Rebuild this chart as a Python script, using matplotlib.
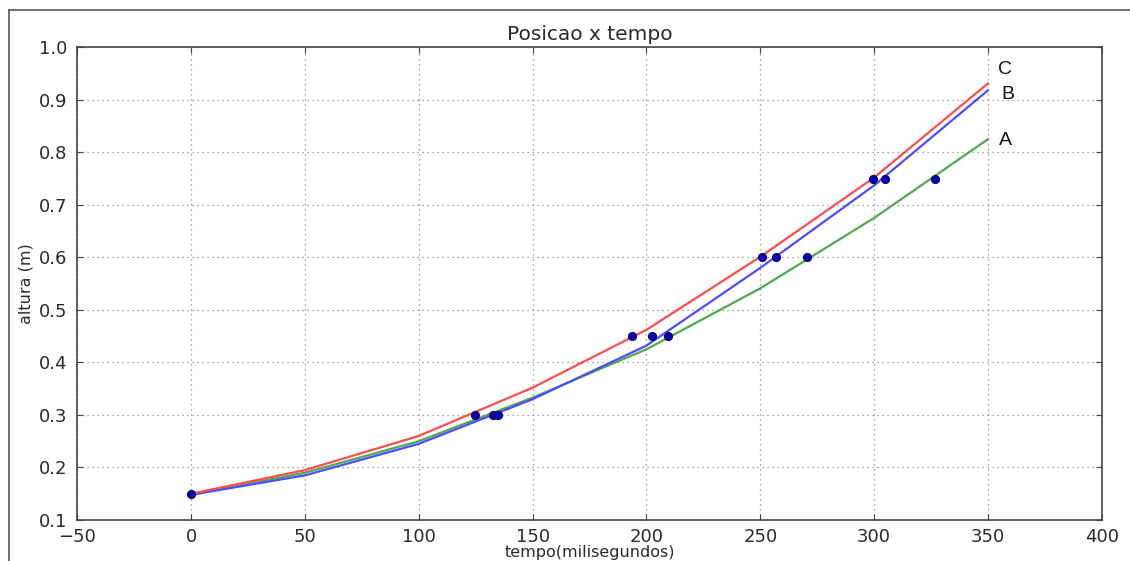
import matplotlib
matplotlib.use("Agg")
import matplotlib.pyplot as plt
from matplotlib.lines import Line2D

# data
t_line = [0, 50, 100, 150, 200, 250, 300, 350]
curve_C = [0.150, 0.195, 0.260, 0.352, 0.462, 0.601, 0.752, 0.931]
curve_B = [0.148, 0.185, 0.245, 0.330, 0.432, 0.580, 0.737, 0.918]
curve_A = [0.148, 0.190, 0.250, 0.333, 0.425, 0.541, 0.675, 0.825]

pts_t = [0, 124.6, 132.7, 134.6, 193.5, 202.5, 209.5, 250.6, 256.8, 270.6, 299.5, 304.7, 326.8]
pts_h = [0.15, 0.30, 0.30, 0.30, 0.45, 0.45, 0.45, 0.60, 0.60, 0.60, 0.75, 0.75, 0.75]

labels = ["C", "B", "A"]
label_pos_x = [354.5, 356.0, 355.0]
label_pos_y = [0.958, 0.910, 0.823]

xticks = [-50, 0, 50, 100, 150, 200, 250, 300, 350, 400]
yticks = [0.1, 0.2, 0.3, 0.4, 0.5, 0.6, 0.7, 0.8, 0.9, 1.0]

plt.rcParams['font.family'] = ['DejaVu Sans']
txt = '#2a2a2a'

fig = plt.figure(figsize=(11.30, 5.61), dpi=100)
ax = fig.add_axes([0.0684, 0.0731, 0.9066, 0.8426])

ax.plot(t_line, curve_A, color='#4daa4d', lw=1.6, zorder=2)
ax.plot(t_line, curve_B, color='#4d4dff', lw=1.6, zorder=3)
ax.plot(t_line, curve_C, color='#ff4d4d', lw=1.6, zorder=4)
ax.plot(pts_t, pts_h, linestyle='none', marker='o', markersize=5.8,
        markerfacecolor='#0000c8', markeredgecolor='#111133', markeredgewidth=0.8, zorder=5)

for lab, lx, ly in zip(labels, label_pos_x, label_pos_y):
    ax.text(lx, ly, lab, ha='left', va='center', fontsize=14,
            family='Liberation Sans', color='#111111')

ax.set_xlim(-50, 400)
ax.set_ylim(0.1, 1.0)
ax.set_xticks(xticks)
ax.set_yticks(yticks)
ax.set_xticklabels([f"\u2212{abs(v)}" if v < 0 else str(v) for v in xticks])
ax.set_yticklabels([f"{v:.1f}" for v in yticks])
ax.tick_params(direction='in', length=4, width=0.8, colors='#444444',
               labelcolor=txt, labelsize=13, top=True, right=True)
ax.tick_params(axis='x', pad=6)
ax.tick_params(axis='y', pad=7)
ax.grid(True, linestyle=(0, (1, 3)), color='#8a8a8a', lw=0.9)
for s in ax.spines.values():
    s.set_color('#444444')
    s.set_linewidth(1.2)

ax.set_title("Posicao x tempo", fontsize=14.5, color=txt, pad=5)
ax.set_xlabel("tempo(milisegundos)", fontsize=11.5, color=txt, labelpad=-1)
ax.set_ylabel("altura (m)", fontsize=11.5, color=txt, labelpad=4)

# screenshot frame lines
fig.add_artist(Line2D([9/1130, 1.0], [1 - 10/561, 1 - 10/561], transform=fig.transFigure,
                      color='#555555', lw=1.2))
fig.add_artist(Line2D([9/1130, 9/1130], [0.0, 1 - 10/561], transform=fig.transFigure,
                      color='#555555', lw=1.2))

fig.savefig("out.png", dpi=100)
